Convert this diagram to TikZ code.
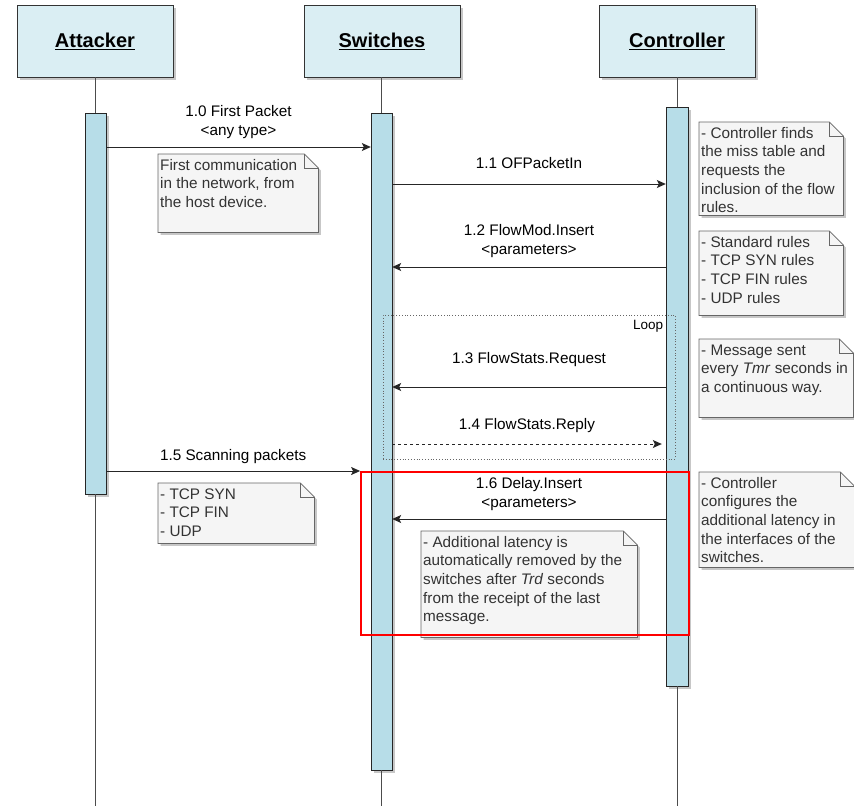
\documentclass[tikz,border=0pt]{standalone}
\usepackage{fontspec}
\setmainfont{Liberation Sans}
\usetikzlibrary{arrows.meta,shadows,backgrounds}
\definecolor{headfill}{HTML}{DAEEF3}
\definecolor{barfill}{HTML}{B7DDE8}
\definecolor{notefill}{HTML}{F5F5F5}
\definecolor{noteline}{HTML}{666666}
\definecolor{notetext}{HTML}{333333}
\newcommand{\notepar}[3]{\begin{minipage}[t][#2][t]{#1}\raggedright\strut#3\end{minipage}}

\begin{document}
\begin{tikzpicture}[x=1pt,y=-1pt,
  every node/.style={inner sep=0pt},
  dshadow/.style={drop shadow={shadow xshift=2.5pt,shadow yshift=-2.5pt,fill=black,opacity=0.22}},
  head/.style={draw=black!80,fill=headfill,dshadow,minimum width=156pt,minimum height=72pt,font=\fontsize{20}{24}\selectfont\bfseries},
  bar/.style={draw=black!85,fill=barfill,dshadow,minimum width=21pt},
  life/.style={draw=black!70,line width=0.8pt},
  msg/.style={draw=black!85,line width=0.9pt,-{Stealth[length=9pt,width=8pt,inset=2pt]}},
  reply/.style={msg,dashed},
  lbl/.style={font=\fontsize{15.3}{18.6}\selectfont,align=center,midway},
  note/.style={anchor=north west,inner xsep=2pt,inner ysep=3pt,text=notetext,font=\fontsize{15.3}{18.6}\selectfont},
  notebox/.style={draw=noteline,fill=notefill,line width=0.8pt,dshadow},
  loopframe/.style={draw=black!60,dotted,line width=0.8pt},
  hilite/.style={draw=red,line width=1.8pt}
]
\useasboundingbox (0,0) rectangle (854,806);
\coordinate (bottom) at (0,806);

\node[head] (attacker) at (95,41) {\underline{Attacker}};
\node[head] (switches) at (382,41) {\underline{Switches}};
\node[head] (controller) at (677,41) {\underline{Controller}};

\node[bar,minimum height=381pt] (barA) at (95.5,303.5) {};
\node[bar,minimum height=657pt] (barS) at (381.5,441.5) {};
\node[bar,minimum width=22pt,minimum height=579pt] (barC) at (677,396.5) {};

\draw[life] (barA.north) -- (barA.north |- attacker.south);
\draw[life] (barS.north) -- (barS.north |- switches.south);
\draw[life] (barC.north) -- (barC.north |- controller.south);
\draw[life] (barA.south) -- (barA.south |- bottom);
\draw[life] (barS.south) -- (barS.south |- bottom);
\draw[life] (barC.south) -- (barC.south |- bottom);

\node[loopframe,minimum width=292pt,minimum height=144pt] (loop) at (529,387) {};
\node[font=\fontsize{13.5}{16}\selectfont,anchor=north east] (looplabel) at ([xshift=-12pt,yshift=-5pt]loop.north east) {Loop};

\node[hilite,minimum width=328pt,minimum height=163pt] (delay) at (525,553.5) {};

\coordinate (m10) at (0,147);
\coordinate (m11) at (0,184);
\coordinate (m12) at (0,267);
\coordinate (m13) at (0,387);
\coordinate (m14) at (0,444);
\coordinate (m15) at (0,471);
\coordinate (m16) at (0,519);

\draw[msg] (barA.east |- m10) -- (barS.west |- m10) node[lbl,above=8pt] {1.0 First Packet\\<any type>};
\draw[msg] (barS.east |- m11) -- (barC.west |- m11) node[lbl,above=15pt] {1.1 OFPacketIn};
\draw[msg] (barC.west |- m12) -- (barS.east |- m12) node[lbl,above=9pt] {1.2 FlowMod.Insert\\<parameters>};
\draw[msg] (barC.west |- m13) -- (barS.east |- m13) node[lbl,above=20pt] {1.3 FlowStats.Request};
\draw[reply] (barS.east |- m14) -- ([xshift=-4pt]barC.west |- m14) node[lbl,above=11pt] {1.4 FlowStats.Reply};
\draw[msg] (barA.east |- m15) -- (delay.west |- m15) node[lbl,above=7pt] {1.5 Scanning packets};
\draw[msg] (barC.west |- m16) -- (barS.east |- m16) node[lbl,above=8pt] {1.6 Delay.Insert\\<parameters>};

\node[note] (noteHost) at (158,154) {\notepar{156pt}{72pt}{First communication\\in the network, from\\the host device.}};
\node[note] (noteMiss) at (699,122) {\notepar{140pt}{87pt}{- Controller finds\\the miss table and\\requests the\\inclusion of the flow\\rules.}};
\node[note] (noteRules) at (699,231) {\notepar{140pt}{78pt}{- Standard rules\\- TCP SYN rules\\- TCP FIN rules\\- UDP rules}};
\node[note] (noteTmr) at (699,339) {\notepar{150pt}{72pt}{- Message sent\\every \textit{Tmr} seconds in\\a continuous way.}};
\node[note] (noteScan) at (158,483) {\notepar{152pt}{54pt}{- TCP SYN\\- TCP FIN\\- UDP}};
\node[note] (noteLatency) at (699,472) {\notepar{151pt}{89pt}{- Controller\\configures the\\additional latency in\\the interfaces of the\\switches.}};
\node[note] (noteRemove) at (421,531) {\notepar{212pt}{100pt}{- Additional latency is\\automatically removed by the\\switches after \textit{Trd} seconds\\from the receipt of the last\\message.}};

\begin{pgfonlayer}{background}
\foreach \n in {noteHost,noteMiss,noteRules,noteTmr,noteScan,noteLatency,noteRemove}{
  \draw[notebox] (\n.north west) -- ([xshift=-14pt]\n.north east) -- ([yshift=-14pt]\n.north east) -- (\n.south east) -- (\n.south west) -- cycle;
  \draw[draw=noteline,line width=0.8pt] ([xshift=-14pt]\n.north east) -- ([xshift=-14pt,yshift=-14pt]\n.north east) -- ([yshift=-14pt]\n.north east);
}
\end{pgfonlayer}
\end{tikzpicture}
\end{document}
